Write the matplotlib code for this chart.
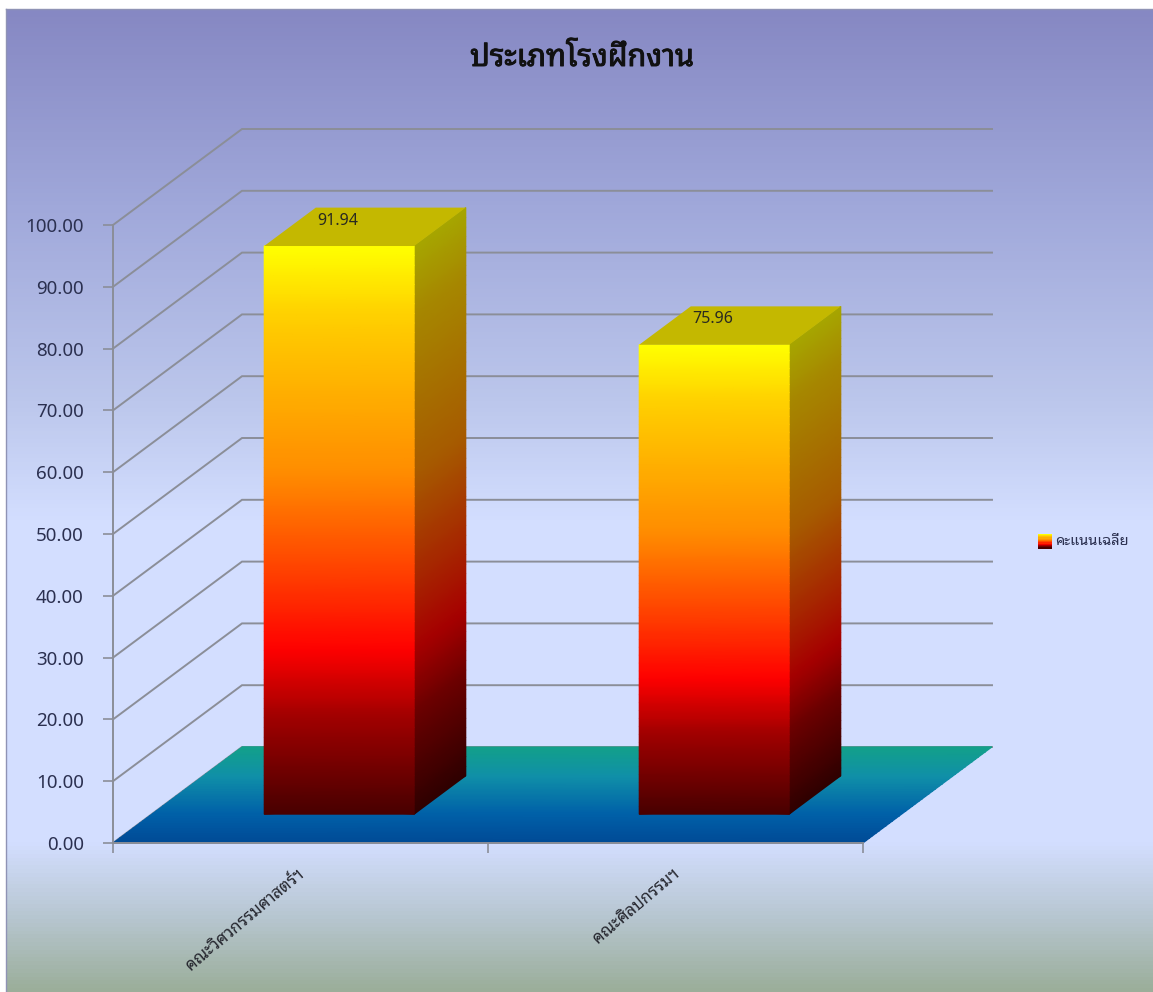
import numpy as np
import matplotlib
matplotlib.use("Agg")
import matplotlib.pyplot as plt
import matplotlib.patheffects as pe
from matplotlib.colors import LinearSegmentedColormap
from matplotlib.patches import Rectangle
from matplotlib.legend_handler import HandlerBase
from matplotlib.transforms import ScaledTranslation

# ---- data ----
categories = ["คณะวิศวกรรมศาสตร์ฯ", "คณะศิลปกรรมฯ"]
values = [91.94, 75.96]
value_labels = ["91.94", "75.96"]
series_name = "คะแนนเฉลี่ย"
title_text = "ประเภทโรงฝึกงาน"
y_ticks = [0, 10, 20, 30, 40, 50, 60, 70, 80, 90, 100]

THAI = ["Noto Sans Thai Looped", "Sarabun", "Noto Sans Thai", "DejaVu Sans"]

W, H = 1153, 992
fig = plt.figure(figsize=(W / 100, H / 100), dpi=100, facecolor="white")

# background
bg = fig.add_axes([6 / W, 0, 1 - 6 / W, 1 - 9 / H], zorder=0)
bg_cmap = LinearSegmentedColormap.from_list("bg", [
    (0.0, "#8688c3"), (0.2, "#a0a8da"), (0.4, "#bcc7ec"), (0.52, "#d3deff"),
    (0.85, "#d3deff"), (0.92, "#b9c8d4"), (1.0, "#9bae9a")])
bg.imshow(np.linspace(0, 1, 256)[:, None], cmap=bg_cmap, aspect="auto", vmin=0, vmax=1)
bg.set_xticks([]); bg.set_yticks([])
for name, s in bg.spines.items():
    s.set_color("#8f93b5"); s.set_linewidth(1)
    s.set_visible(name in ("left", "top"))

# plot axes
ax = fig.add_axes([113 / W, (H - 843) / H, 750 / W, 618 / H], zorder=1)
ax.patch.set_alpha(0)
ax.set_xlim(-0.5, 1.5)
ax.set_ylim(0, 100)
DX = 129 / 375
DY = 96 / 6.18
GRID = "#8b8e98"

def proj(x, y, d):
    return x + d * DX, y + d * DY

face_cmap = LinearSegmentedColormap.from_list("bar", [
    (0.0, "#480000"), (0.17, "#a00000"), (0.29, "#ff0000"), (0.39, "#ff3000"),
    (0.6, "#ff8c00"), (0.88, "#ffd000"), (1.0, "#ffff00")])
floor_cmap = LinearSegmentedColormap.from_list("floor", [
    (0.0, "#004a96"), (0.3, "#0060a8"), (0.7, "#1090a8"), (1.0, "#12a08a")])

def shaded(x0, x1, y0, y1, d0, d1, cmap, factor=1.0, z=3, nrows=60):
    t = np.linspace(0, 1, nrows)
    Xs, Ys = [], []
    for xx, dd in ((x0, d0), (x1, d1)):
        px, py = proj(xx, y0 + (y1 - y0) * t, dd)
        Xs.append(px * np.ones_like(t)); Ys.append(py)
    X = np.array(Xs).T
    Y = np.array(Ys).T
    C = np.array([[cmap(v)[:3]] * 2 for v in t]) * factor
    m = ax.pcolormesh(X, Y, np.zeros_like(X), shading="gouraud", zorder=z, clip_on=False)
    m.set_array(None)
    m.set_facecolor(np.c_[C.reshape(-1, 3), np.ones(C.size // 3)])
    return m

# gridlines
for v in y_ticks:
    xs, ys = zip(proj(-0.5, v, 0), proj(-0.5, v, 1), proj(1.5, v, 1))
    ax.plot(xs, ys, color=GRID, lw=1.4, zorder=1, clip_on=False, solid_joinstyle="miter")

# floor
t = np.linspace(0, 1, 40)
Xf = np.array([[proj(-0.5, 0, d)[0], proj(1.5, 0, d)[0]] for d in t])
Yf = np.array([[proj(-0.5, 0, d)[1], proj(1.5, 0, d)[1]] for d in t])
Cf = np.array([[floor_cmap(d)[:4]] * 2 for d in t]).reshape(-1, 4)
floor_mesh = ax.pcolormesh(Xf, Yf, np.zeros_like(Xf), shading="gouraud", zorder=2, clip_on=False)
floor_mesh.set_array(None)
floor_mesh.set_facecolor(Cf)

# bars
BW = 0.4
D0, D1 = 0.3, 0.7
for i, v in enumerate(values):
    xl, xr = i - BW / 2, i + BW / 2
    shaded(xr, xr, 0, v, D0, D1, face_cmap, factor=0.65, z=3)
    shaded(xl, xr, 0, v, D0, D0, face_cmap, z=4)
    pts = [proj(xl, v, D0), proj(xr, v, D0), proj(xr, v, D1), proj(xl, v, D1)]
    ax.fill(*zip(*pts), color="#c4b800", lw=0, zorder=5, clip_on=False)
    ax.annotate(value_labels[i], xy=proj(i, v, 0.5), xytext=(-19.5, 4.5), textcoords="offset points",
                ha="center", va="center", fontsize=11.5, color="#2a2a20",
                family="Noto Sans", zorder=6, annotation_clip=False)

# axes furniture
for s in ("top", "right"):
    ax.spines[s].set_visible(False)
for s in ("left", "bottom"):
    ax.spines[s].set_color(GRID); ax.spines[s].set_linewidth(1.4); ax.spines[s].set_zorder(6)
ax.set_yticks(y_ticks)
ax.set_yticklabels([f"{v:.2f}" for v in y_ticks], fontsize=13.5, color="#2b3050", family="Noto Sans")
ax.tick_params(axis="y", length=7, width=1.2, color=GRID, pad=14)
ax.set_xticks([-0.5, 0.5, 1.5])
ax.set_xticklabels([])
ax.tick_params(axis="x", which="major", length=7, width=1.2, color=GRID)
ax.set_xticks([0, 1], minor=True)
ax.set_xticklabels(categories, minor=True, rotation=40, ha="right", rotation_mode="anchor",
                   fontsize=12, color="#25262e", family=THAI)
ax.tick_params(axis="x", which="minor", length=0, pad=16.5)
for lab in ax.get_xticklabels(minor=True):
    lab.set_transform(lab.get_transform() + ScaledTranslation(-3 / 100, 0, fig.dpi_scale_trans))

# legend
class GradHandler(HandlerBase):
    def create_artists(self, legend, orig, xd, yd, width, height, fontsize, trans):
        n = 12
        shift = 4.3
        return [Rectangle((xd, yd - shift + height * k / n), width, height / n * 1.05,
                          facecolor=face_cmap(k / (n - 1)), lw=0, transform=trans) for k in range(n)]

proxy = Rectangle((0, 0), 1, 1)
fig.legend([proxy], [series_name], handler_map={Rectangle: GradHandler()},
           loc="center left", bbox_to_anchor=(1025 / W, 1 - 541 / H), frameon=False,
           handlelength=0.95, handleheight=1.2, handletextpad=0.2,
           prop={"family": THAI, "size": 10.5}, labelcolor="#2b3050")

fig.text(582 / W, 1 - 58 / H, title_text, ha="center", va="center", fontsize=22,
         color="#111111", family=THAI,
         path_effects=[pe.withStroke(linewidth=0.7, foreground="#111111")])

fig.savefig("out.png", dpi=100)
